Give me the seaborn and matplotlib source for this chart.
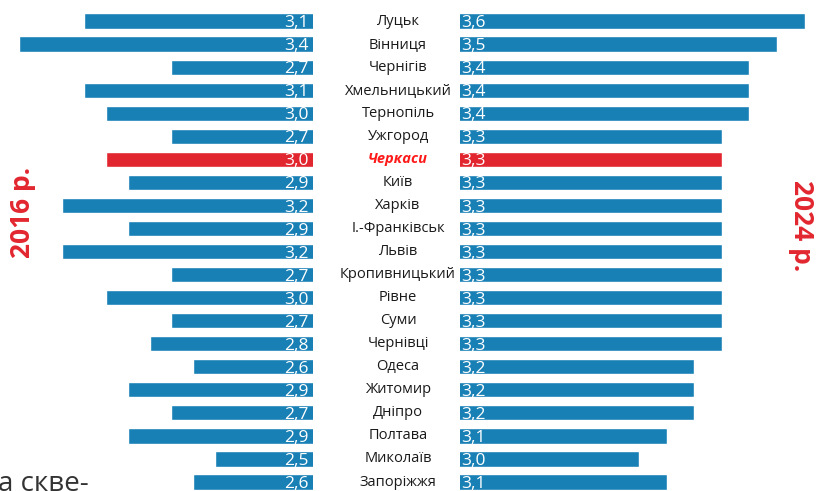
import matplotlib
matplotlib.use("Agg")
import matplotlib.pyplot as plt
import seaborn as sns
import pandas as pd

cities = ["Луцьк", "Вінниця", "Чернігів", "Хмельницький", "Тернопіль", "Ужгород",
          "Черкаси", "Київ", "Харків", "І.-Франківськ", "Львів", "Кропивницький",
          "Рівне", "Суми", "Чернівці", "Одеса", "Житомир", "Дніпро", "Полтава",
          "Миколаїв", "Запоріжжя"]
vals_2016 = [3.1, 3.4, 2.7, 3.1, 3.0, 2.7, 3.0, 2.9, 3.2, 2.9, 3.2, 2.7, 3.0, 2.7,
             2.8, 2.6, 2.9, 2.7, 2.9, 2.5, 2.6]
vals_2024 = [3.6, 3.5, 3.4, 3.4, 3.4, 3.3, 3.3, 3.3, 3.3, 3.3, 3.3, 3.3, 3.3, 3.3,
             3.3, 3.2, 3.2, 3.2, 3.1, 3.0, 3.1]
highlight = "Черкаси"

BLUE = "#1880b5"
RED = "#e2262f"

df = pd.DataFrame({"city": cities, "y2016": vals_2016, "y2024": vals_2024})
palette = {c: (RED if c == highlight else BLUE) for c in cities}

sns.set_theme(style="white")
plt.rcParams["font.family"] = ["Open Sans", "DejaVu Sans"]

fig = plt.figure(figsize=(8.16, 4.91), dpi=100)
n = len(cities)
W, H = 816, 491
y_top = 9.5
step = 23.05
y_bot = y_top + step * n
bottom = (H - y_bot) / H
height = (y_bot - y_top) / H

ax_l = fig.add_axes([0, bottom, 313 / W, height])
ax_r = fig.add_axes([460 / W, bottom, 356 / W, height])

sns.barplot(data=df, x="y2016", y="city", hue="city", palette=palette,
            legend=False, orient="h", width=0.66, saturation=1, ax=ax_l)
sns.barplot(data=df, x="y2024", y="city", hue="city", palette=palette,
            legend=False, orient="h", width=0.66, saturation=1, ax=ax_r)

ax_l.set_xlim(3.486, 2.05)
ax_r.set_xlim(2.351, 3.641)
for ax in (ax_l, ax_r):
    ax.set_ylim(n - 0.5, -0.5)
    ax.axis("off")

for i, (a, b) in enumerate(zip(vals_2016, vals_2024)):
    ax_l.annotate(f"{a:.1f}".replace(".", ","), (2.05, i), xytext=(-3, -1.5),
                  textcoords="offset points", ha="right", va="center",
                  color="white", fontsize=12.5)
    ax_r.annotate(f"{b:.1f}".replace(".", ","), (2.351, i), xytext=(1, -1.5),
                  textcoords="offset points", ha="left", va="center",
                  color="white", fontsize=12.5)
    yc = (H - (y_top + step * (i + 0.5))) / H
    if cities[i] == highlight:
        fig.text(398 / W, yc, cities[i], ha="center", va="center", fontsize=10.5,
                 color="#ff1a1a", fontweight="bold", style="italic")
    else:
        fig.text(398 / W, yc, cities[i], ha="center", va="center", fontsize=10.5,
                 color="#1a1a1a")

fig.text(22 / W, 1 - 212 / H, "2016 р.", rotation=90, ha="center", va="center",
         fontsize=19, fontweight="bold", color=RED)
fig.text(801 / W, 1 - 226 / H, "2024 р.", rotation=270, ha="center", va="center",
         fontsize=19, fontweight="bold", color=RED)
fig.text(-2 / W, -7 / H, "а скве-", ha="left", va="bottom", fontsize=20,
         color="#333333")

fig.savefig("out.png", dpi=100)
